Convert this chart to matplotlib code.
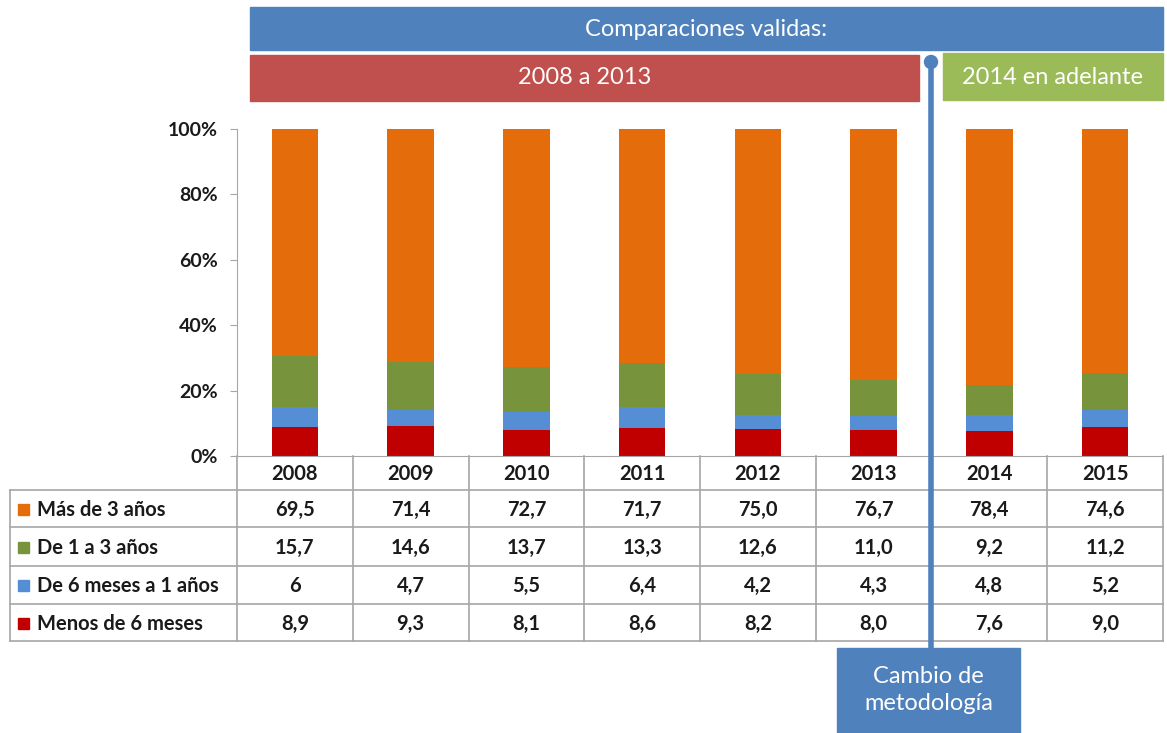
import matplotlib
matplotlib.use("Agg")
import matplotlib.pyplot as plt
from matplotlib.patches import Rectangle, Circle
import numpy as np

plt.rcParams['font.family'] = ['Lato', 'DejaVu Sans']

years = ['2008', '2009', '2010', '2011', '2012', '2013', '2014', '2015']
series_names = ['Más de 3 años', 'De 1 a 3 años', 'De 6 meses a 1 años', 'Menos de 6 meses']
mas_3 = [69.5, 71.4, 72.7, 71.7, 75.0, 76.7, 78.4, 74.6]
de_1_3 = [15.7, 14.6, 13.7, 13.3, 12.6, 11.0, 9.2, 11.2]
de_6m_1 = [6, 4.7, 5.5, 6.4, 4.2, 4.3, 4.8, 5.2]
menos_6m = [8.9, 9.3, 8.1, 8.6, 8.2, 8.0, 7.6, 9.0]
y_ticks = [0, 20, 40, 60, 80, 100]
banner_top = 'Comparaciones validas:'
banner_left = '2008 a 2013'
banner_right = '2014 en adelante'
note_text = 'Cambio de\nmetodología'

colors = ['#E46C0A', '#77933C', '#558ED5', '#C00000']
W, H = 1167, 733
fig = plt.figure(figsize=(W / 100, H / 100), dpi=100)

# plot area in pixels
x0, x1 = 237, 1163
y100, y0 = 129, 456
ax = fig.add_axes([x0 / W, (H - y0) / H, (x1 - x0) / W, (y0 - y100) / H])
n = len(years)
x = np.arange(n)
data_stack = [menos_6m, de_6m_1, de_1_3, mas_3]
stack_colors = [colors[3], colors[2], colors[1], colors[0]]
totals = np.sum(np.array(data_stack, dtype=float), axis=0)
bottom = np.zeros(n)
for vals, c in zip(data_stack, stack_colors):
    v = np.array(vals, dtype=float) / totals * 100
    ax.bar(x, v, bottom=bottom, width=0.40, color=c, edgecolor='none', zorder=2)
    bottom += v
ax.set_xlim(-0.5, n - 0.5)
ax.set_ylim(0, 100)
ax.set_yticks(y_ticks)
ax.set_yticklabels([f'{t}%' for t in y_ticks], fontsize=14, fontweight='bold', color='#1a1a1a')
ax.set_xticks([])
for s in ['top', 'right']:
    ax.spines[s].set_visible(False)
ax.spines['left'].set_color('#A6A6A6')
ax.spines['bottom'].set_color('#A6A6A6')
ax.tick_params(axis='y', length=5, color='#A6A6A6', pad=9)
ax.patch.set_alpha(0)

# overlay in pixel coords
ov = fig.add_axes([0, 0, 1, 1], zorder=5)
ov.set_xlim(0, W)
ov.set_ylim(H, 0)
ov.axis('off')
ov.patch.set_alpha(0)

grid = '#A6A6A6'
col_w = (x1 - x0) / n
row_y = [456, 490, 527, 566, 604, 641]
tx0 = 10
for i in range(n + 1):
    xx = x0 + i * col_w
    ov.plot([xx, xx], [row_y[0], row_y[-1]], color=grid, lw=1.2, zorder=1)
ov.plot([tx0, tx0], [row_y[1], row_y[-1]], color=grid, lw=1.2, zorder=1)
for yy in row_y[1:]:
    ov.plot([tx0, x1], [yy, yy], color=grid, lw=1.2, zorder=1)

for i, yr in enumerate(years):
    ov.text(x0 + (i + 0.5) * col_w, (row_y[0] + row_y[1]) / 2 + 1, yr, ha='center', va='center',
            fontsize=14.5, fontweight='bold', color='#1a1a1a')

def fmt(v):
    if isinstance(v, int):
        return str(v)
    return f'{v:.1f}'.replace('.', ',')

table_series = [mas_3, de_1_3, de_6m_1, menos_6m]
for r, (name, vals, c) in enumerate(zip(series_names, table_series, colors)):
    yc = (row_y[r + 1] + row_y[r + 2]) / 2 + 1
    ov.add_patch(Rectangle((18, yc - 6), 11, 11, color=c, zorder=2))
    ov.text(37, yc, name, ha='left', va='center', fontsize=14.5, fontweight='bold', color='#1a1a1a')
    for i, v in enumerate(vals):
        ov.text(x0 + (i + 0.5) * col_w, yc, fmt(v), ha='center', va='center',
                fontsize=14.5, fontweight='bold', color='#1a1a1a')

# banners
ov.add_patch(Rectangle((250, 7), 1163 - 250, 43, color='#4F81BD', zorder=2))
ov.text((250 + 1163) / 2, 30, banner_top, ha='center', va='center', fontsize=17, color='white', zorder=3)
ov.add_patch(Rectangle((250, 55), 919 - 250, 46, color='#C0504D', zorder=2))
ov.text((250 + 919) / 2, 78, banner_left, ha='center', va='center', fontsize=17, color='white', zorder=3)
ov.add_patch(Rectangle((943, 53), 1163 - 943, 47, color='#9BBB59', zorder=2))
ov.text((943 + 1163) / 2, 77, banner_right, ha='center', va='center', fontsize=17, color='white', zorder=3)

# methodology change marker
vx = 931
ov.plot([vx, vx], [62, 650], color='#4F81BD', lw=4, zorder=6, solid_capstyle='butt')
ov.add_patch(Circle((vx, 62), 6.5, color='#4F81BD', zorder=7))
ov.add_patch(Rectangle((837, 648), 1020 - 837, 90, color='#4F81BD', zorder=6))
ov.text((837 + 1020) / 2, 690, note_text, ha='center', va='center', fontsize=17, color='white',
        linespacing=1.4, zorder=7)

fig.savefig('out.png', dpi=100)
